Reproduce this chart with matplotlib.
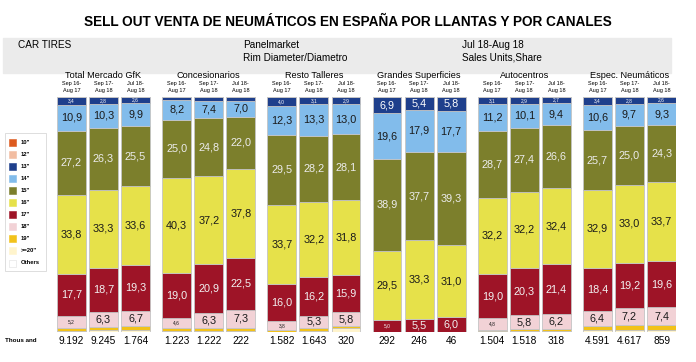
import numpy as np
import matplotlib
matplotlib.use("Agg")
import matplotlib.pyplot as plt
from matplotlib.patches import Rectangle

plt.rcParams['font.family'] = ['Liberation Sans', 'DejaVu Sans']

groups = ["Total Mercado GfK", "Concesionarios", "Resto Talleres",
          "Grandes Superficies", "Autocentros", "Espec. Neumáticos"]
periods = ["Sep 16-\nAug 17", "Sep 17-\nAug 18", "Jul 18-\nAug 18"]

sizes = ['10"', '12"', '13"', '14"', '15"', '16"', '17"', '18"', '19"', '>=20"', 'Others']
colors = ['#DD5A1E', '#F2BDA2', '#1E3F8C', '#82BCEB', '#7C7F2C', '#E6E14A',
          '#9E1427', '#F2D2D6', '#F2C21A', '#FFF4CC', '#FFFFFF']

# share per bar (6 groups x 3 periods)
s10 = [0.0] * 18
s12 = [0.0] * 18
s13 = [3.4, 2.8, 2.6, 1.4, 1.6, 1.5, 4.0, 3.1, 2.9, 6.9, 5.4, 5.8, 3.1, 2.9, 2.7, 3.4, 2.8, 2.6]
s14 = [10.9, 10.3, 9.9, 8.2, 7.4, 7.0, 12.3, 13.3, 13.0, 19.6, 17.9, 17.7, 11.2, 10.1, 9.4, 10.6, 9.7, 9.3]
s15 = [27.2, 26.3, 25.5, 25.0, 24.8, 22.0, 29.5, 28.2, 28.1, 38.9, 37.7, 39.3, 28.7, 27.4, 26.6, 25.7, 25.0, 24.3]
s16 = [33.8, 33.3, 33.6, 40.3, 37.2, 37.8, 33.7, 32.2, 31.8, 29.5, 33.3, 31.0, 32.2, 32.2, 32.4, 32.9, 33.0, 33.7]
s17 = [17.7, 18.7, 19.3, 19.0, 20.9, 22.5, 16.0, 16.2, 15.9, 5.0, 5.5, 6.0, 19.0, 20.3, 21.4, 18.4, 19.2, 19.6]
s18 = [5.2, 6.3, 6.7, 4.6, 6.3, 7.3, 3.8, 5.3, 5.8, 0.0, 0.0, 0.0, 4.8, 5.8, 6.2, 6.4, 7.2, 7.4]
s19 = [1.2, 1.6, 1.7, 1.0, 1.3, 1.4, 0.5, 1.2, 1.0, 0.0, 0.0, 0.0, 0.7, 1.0, 1.0, 1.9, 2.3, 2.3]
s20 = [0.4, 0.5, 0.5, 0.4, 0.4, 0.4, 0.1, 0.4, 1.4, 0.0, 0.0, 0.0, 0.2, 0.2, 0.2, 0.5, 0.6, 0.6]
others = [0.2, 0.2, 0.2, 0.1, 0.1, 0.1, 0.1, 0.1, 0.1, 0.1, 0.2, 0.2, 0.1, 0.1, 0.1, 0.2, 0.2, 0.2]

totals = ["9.192", "9.245", "1.764", "1.223", "1.222", "222", "1.582", "1.643", "320",
          "292", "246", "46", "1.504", "1.518", "318", "4.591", "4.617", "859"]

# stacked bottom -> top
stack = [others, s20, s19, s18, s17, s16, s15, s14, s13, s12, s10]
stack_colors = colors[::-1]
text_col = {id(s13): 'white', id(s14): '#1a1a1a', id(s15): '#ececec',
            id(s16): '#1a1a1a', id(s17): '#f2f2f2', id(s18): '#1a1a1a'}

W, H = 696, 362
fig = plt.figure(figsize=(W / 100, H / 100), dpi=100)


def fx(px):
    return px / W


def fy(py):
    return 1 - py / H


ax = fig.add_axes([fx(57), fy(332), fx(676) - fx(57), fy(97) - fy(332)])
step = 3.28
x = np.array([g * step + i for g in range(6) for i in range(3)])
bw = 0.9

bottom = np.zeros(18)
for vals, c in zip(stack, stack_colors):
    v = np.array(vals)
    ax.bar(x, v, bw, bottom=bottom, color=c, edgecolor='#c4c4c4', linewidth=0.6)
    if id(vals) in text_col:
        for k in range(18):
            if v[k] <= 0:
                continue
            if vals is s13 and k // 3 == 1:
                continue
            small = v[k] < 5.25
            lab = f"{v[k]:.1f}".replace('.', ',')
            ax.text(x[k], bottom[k] + v[k] / 2, lab, ha='center', va='center',
                    fontsize=3.5 if small else 7.8, color=text_col[id(vals)])
    bottom += v

ax.set_xlim(-bw / 2, 5 * step + 2 + bw / 2)
ax.set_ylim(0, 100)
ax.axis('off')

# title and header band
fig.text(0.5, fy(22), "SELL OUT VENTA DE NEUMÁTICOS EN ESPAÑA POR LLANTAS Y POR CANALES",
         ha='center', va='center', fontsize=9.8, fontweight='bold')
fig.patches.append(Rectangle((fx(3), fy(73)), fx(671) - fx(3), fy(38) - fy(73),
                             transform=fig.transFigure, color='#ebebeb', zorder=0))
fig.text(fx(18), fy(45), "CAR TIRES", fontsize=7.2, va='center')
fig.text(fx(243), fy(45), "Panelmarket", fontsize=7.2, va='center')
fig.text(fx(243), fy(58), "Rim Diameter/Diametro", fontsize=7.2, va='center')
fig.text(fx(462), fy(45), "Jul 18-Aug 18", fontsize=7.2, va='center')
fig.text(fx(462), fy(58), "Sales Units,Share", fontsize=7.2, va='center')

# group titles and period labels
to_fig = lambda xd: fig.transFigure.inverted().transform(ax.transData.transform((xd, 0)))[0]
for g, name in enumerate(groups):
    fig.text(to_fig(g * step + 1), fy(75), name, ha='center', va='center', fontsize=6.6)
    for i, p in enumerate(periods):
        fig.text(to_fig(g * step + i), fy(87), p, ha='center', va='center',
                 fontsize=4, linespacing=1.3)

# totals row
fig.text(fx(5), fy(341), "Thous and", fontsize=4.5, fontweight='bold', va='center')
for k in range(18):
    fig.text(to_fig(x[k]), fy(341), totals[k], ha='center', va='center', fontsize=7.3)

# legend box
fig.patches.append(Rectangle((fx(5), fy(271)), fx(46) - fx(5), fy(133) - fy(271),
                             transform=fig.transFigure, facecolor='white',
                             edgecolor='#d8d8d8', linewidth=0.6))
for j, (s, c) in enumerate(zip(sizes, colors)):
    yy = 142 + j * 12.1
    fig.patches.append(Rectangle((fx(9), fy(yy + 3.5)), fx(7), fx(7) * W / H,
                                 transform=fig.transFigure, facecolor=c,
                                 edgecolor='#e0e0e0' if c == '#FFFFFF' else c, linewidth=0.4))
    fig.text(fx(21), fy(yy), s, fontsize=4.2, va='center', fontweight='bold')

fig.savefig("out.png", dpi=100)
